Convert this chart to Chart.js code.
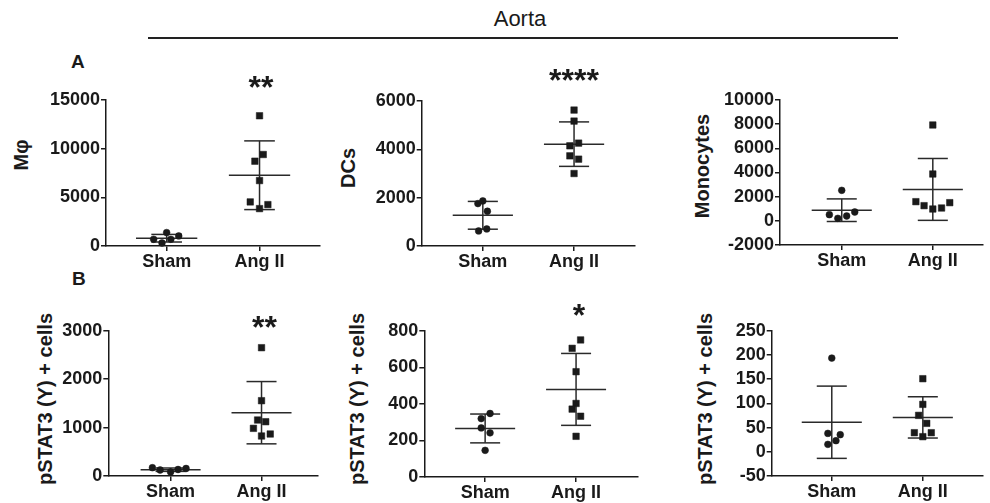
<!DOCTYPE html>
<html><head><meta charset="utf-8">
<script src="https://cdn.jsdelivr.net/npm/chart.js@4.4.1/dist/chart.umd.min.js"></script>
<style>
body{margin:0;background:#fff;width:990px;height:503px;position:relative;overflow:hidden;font-family:"Liberation Sans",Arial,sans-serif;color:#1a1a1a}
.t{position:absolute;line-height:1;white-space:nowrap}
.yt{position:absolute;line-height:1;white-space:nowrap;font-size:20px;font-weight:bold;transform:translate(-50%,-50%) rotate(-90deg)}
canvas{position:absolute}
</style></head><body>
<div class="t" style="left:420px;width:200px;text-align:center;top:8px;font-size:22px">Aorta</div>
<div style="position:absolute;left:148px;top:37px;width:750px;height:2px;background:#222"></div>
<div class="t" style="left:71px;top:52px;font-size:19px;font-weight:bold">A</div>
<div class="t" style="left:72px;top:269px;font-size:19px;font-weight:bold">B</div>
<script>
// ---------- data ----------
const groups = ['Sham', 'Ang II'];

// A: Mφ
const mphSham = [690, 309, 1380, 690, 1030];
const mphShamJitter = [-0.14, -0.05, 0, 0.045, 0.13];
const mphAng = [13380, 9400, 8712, 6723, 4528, 3842, 4253];
const mphAngJitter = [0, 0.04, -0.05, 0, -0.1, 0, 0.09];
const mphMean = [800, 7270];
const mphSD = [390, 3530];

// A: DCs
const dcSham = [1755, 1866, 1437, 622, 705];
const dcShamJitter = [-0.054, 0, 0.05, -0.046, 0.043];
const dcAng = [5625, 5169, 4146, 4257, 3731, 3593, 2999];
const dcAngJitter = [0, 0, -0.046, 0.05, -0.046, 0.05, 0];
const dcMean = [1270, 4215];
const dcSD = [575, 920];

// A: Monocytes
const monoSham = [2524, 510, 207, 400, 731];
const monoShamJitter = [0, -0.136, -0.043, 0.054, 0.143];
const monoAng = [7932, 3876, 1586, 1255, 979, 1062, 1504];
const monoAngJitter = [0, 0, -0.186, -0.096, 0, 0.096, 0.186];
const monoMean = [880, 2600];
const monoSD = [935, 2560];

// B: pSTAT3 (Y) + cells, panel 1
const ps1Sham = [171, 124, 83, 134, 155];
const ps1ShamJitter = [-0.2, -0.115, 0, 0.082, 0.17];
const ps1Ang = [2649, 1555, 1156, 1121, 984, 826, 867];
const ps1AngJitter = [0, 0, -0.043, 0.046, -0.089, 0, 0.096];
const ps1Mean = [130, 1307];
const ps1SD = [35, 643];

// B: panel 2
const ps2Sham = [348, 320, 269, 242, 146];
const ps2ShamJitter = [0.054, -0.043, -0.043, 0.054, 0];
const ps2Ang = [751, 705, 577, 403, 372, 333, 223];
const ps2AngJitter = [0.05, -0.043, 0, 0, -0.043, 0.05, 0];
const ps2Mean = [266, 480];
const ps2SD = [79, 197];

// B: panel 3
const ps3Sham = [193.5, 38, 35.3, 22.9, 15.3];
const ps3ShamJitter = [0, -0.043, 0.093, 0.046, -0.043];
const ps3Ang = [150.9, 97.9, 75.2, 58.7, 39.4, 39.4, 31.2];
const ps3AngJitter = [0, 0, -0.046, 0.043, -0.093, 0.093, 0];
const ps3Mean = [61, 71];
const ps3SD = [74.6, 42.6];

const yTitles = ['Mφ', 'DCs', 'Monocytes', 'pSTAT3 (Y) + cells', 'pSTAT3 (Y) + cells', 'pSTAT3 (Y) + cells'];
const yMins = [0, 0, -2000, 0, 0, -50];
const yMaxs = [15000, 6000, 10000, 3000, 800, 250];
const ySteps = [5000, 2000, 2000, 1000, 200, 50];
const significance = ['**', '****', '', '**', '*', ''];

// ---------- layout (pixel placement of each panel) ----------
const layout = [
  {axisX:106,   right:325,   top:100,   bottom:245.7, title:[21,155],    xMin:0.347, xMax:2.65,  star:[261,70.8]},
  {axisX:421.7, right:640,   top:101,   bottom:245.7, title:[348,167.5], xMin:0.33,  xMax:2.667, star:[574,64.1]},
  {axisX:780,   right:988,   top:100,   bottom:245,   title:[702,166],   xMin:0.322, xMax:2.55,  star:null},
  {axisX:108.3, right:323,   top:330.7, bottom:476,   title:[45,398.5],  xMin:0.315, xMax:2.62,  star:[264.5,310.8]},
  {axisX:424.3, right:643.3, top:331,   bottom:476.7, title:[357,398.5], xMin:0.331, xMax:2.68,  star:[579,299.1]},
  {axisX:771.7, right:988,   top:330.7, bottom:476,   title:[705,398.5], xMin:0.34,  xMax:2.66,  star:null}
];

const panels = [
  [mphSham, mphShamJitter, mphAng, mphAngJitter, mphMean, mphSD],
  [dcSham, dcShamJitter, dcAng, dcAngJitter, dcMean, dcSD],
  [monoSham, monoShamJitter, monoAng, monoAngJitter, monoMean, monoSD],
  [ps1Sham, ps1ShamJitter, ps1Ang, ps1AngJitter, ps1Mean, ps1SD],
  [ps2Sham, ps2ShamJitter, ps2Ang, ps2AngJitter, ps2Mean, ps2SD],
  [ps3Sham, ps3ShamJitter, ps3Ang, ps3AngJitter, ps3Mean, ps3SD]
];

const INK = '#1a1a1a';
const FONT = '"Liberation Sans", Arial, sans-serif';

function errorBars(mean, sd) {
  return {
    id: 'errorBars',
    beforeDatasetsDraw(chart) {
      const {ctx, scales: {x, y}} = chart;
      ctx.save();
      ctx.strokeStyle = '#2a2a2a';
      ctx.lineWidth = 1.5;
      const seg = (x0, x1, v0, v1) => {
        ctx.beginPath();
        ctx.moveTo(x.getPixelForValue(x0), y.getPixelForValue(v0));
        ctx.lineTo(x.getPixelForValue(x1), y.getPixelForValue(v1));
        ctx.stroke();
      };
      mean.forEach((m, i) => {
        const c = i + 1, s = sd[i];
        seg(c, c, m - s, m + s);
        seg(c - 0.33, c + 0.33, m, m);
        seg(c - 0.165, c + 0.165, m + s, m + s);
        seg(c - 0.165, c + 0.165, m - s, m - s);
      });
      ctx.restore();
    }
  };
}

panels.forEach((p, k) => {
  const L = layout[k];
  const [sham, shamJ, ang, angJ, mean, sd] = p;
  const cx = Math.round(L.axisX - 72);
  const cy = Math.round(L.top - 15);
  const padTop = L.top - cy;
  const yW = L.axisX - cx;
  const xH = 30;
  const cw = Math.round(L.right - cx);
  const ch = Math.round(L.bottom + xH - cy);

  const t = document.createElement('div');
  t.className = 'yt';
  t.textContent = yTitles[k];
  t.style.left = L.title[0] + 'px';
  t.style.top = L.title[1] + 'px';
  document.body.appendChild(t);

  const cv = document.createElement('canvas');
  cv.width = cw; cv.height = ch;
  cv.style.left = cx + 'px'; cv.style.top = cy + 'px';
  cv.style.width = cw + 'px'; cv.style.height = ch + 'px';
  document.body.appendChild(cv);

  if (significance[k] && L.star) {
    const d = document.createElement('div');
    d.className = 't';
    d.textContent = significance[k];
    d.style.cssText += `left:${L.star[0]-60}px;width:120px;text-align:center;top:${L.star[1]}px;font-size:32px;font-weight:bold;`;
    document.body.appendChild(d);
  }

  new Chart(cv, {
    type: 'scatter',
    data: {
      datasets: [
        {
          data: sham.map((v, i) => ({x: 1 + shamJ[i], y: v})),
          pointStyle: 'circle', pointRadius: 3.4, pointBackgroundColor: INK,
          pointBorderColor: INK, pointBorderWidth: 0.5, clip: false
        },
        {
          data: ang.map((v, i) => ({x: 2 + angJ[i], y: v})),
          pointStyle: 'rect', pointRadius: 4.6, pointBackgroundColor: INK,
          pointBorderColor: INK, pointBorderWidth: 0.5, clip: false
        }
      ]
    },
    options: {
      responsive: false,
      animation: false,
      devicePixelRatio: 1,
      layout: {padding: {top: padTop, left: 0, right: 0, bottom: 0}},
      plugins: {legend: {display: false}, tooltip: {enabled: false}},
      scales: {
        x: {
          type: 'linear', min: L.xMin, max: L.xMax,
          afterBuildTicks: s => { s.ticks = [{value: 1}, {value: 2}]; },
          afterFit: s => { s.height = xH; },
          grid: {drawOnChartArea: false, drawTicks: true, tickLength: 5, color: INK, lineWidth: 1.5},
          border: {display: true, color: INK, width: 1.5},
          ticks: {
            padding: 0, autoSkip: false, maxRotation: 0, color: INK,
            font: {family: FONT, size: 18, weight: 'bold'},
            callback: v => groups[v - 1]
          }
        },
        y: {
          type: 'linear', min: yMins[k], max: yMaxs[k],
          afterFit: s => { s.width = yW; },
          grid: {drawOnChartArea: false, drawTicks: true, tickLength: 5, color: INK, lineWidth: 1.5},
          border: {display: true, color: INK, width: 1.5},
          ticks: {
            stepSize: ySteps[k], padding: 1, color: INK, autoSkip: false,
            font: {family: FONT, size: 18, weight: 'bold'},
            callback: v => String(v)
          }
        }
      }
    },
    plugins: [errorBars(mean, sd)]
  });
});
</script>
</body></html>
